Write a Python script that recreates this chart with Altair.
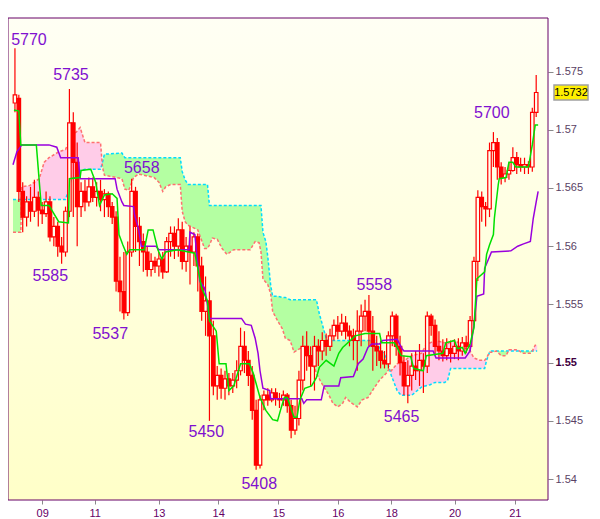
import altair as alt
import pandas as pd

# ---------------- data ----------------
bar_open = [1.5723,1.5727,1.5647,1.5625,1.5638,1.5630,1.5642,1.5631,1.5628,1.5638,
            1.5608,1.5617,1.5600,1.5595,1.5630,1.5706,1.5672,1.5634,1.5647,1.5638,
            1.5651,1.5642,1.5647,1.5640,1.5645,1.5634,1.5625,1.5570,1.5561,1.5543,
            1.5595,1.5647,1.5617,1.5604,1.5595,1.5580,1.5587,1.5583,1.5589,1.5578,
            1.5604,1.5611,1.5600,1.5614,1.5587,1.5600,1.5595,1.5608,1.5583,1.5544,
            1.5553,1.5523,1.5480,1.5489,1.5478,1.5486,1.5480,1.5485,1.5493,1.5514,
            1.5502,1.5489,1.5459,1.5412,1.5468,1.5472,1.5468,1.5474,1.5469,1.5468,
            1.5472,1.5463,1.5442,1.5452,1.5485,1.5514,1.5506,1.5497,1.5514,1.5510,
            1.5519,1.5514,1.5523,1.5532,1.5527,1.5534,1.5527,1.5523,1.5519,1.5527,
            1.5540,1.5544,1.5527,1.5514,1.5510,1.5502,1.5499,1.5523,1.5540,1.5514,
            1.5500,1.5480,1.5489,1.5497,1.5493,1.5502,1.5497,1.5540,1.5532,1.5514,
            1.5510,1.5506,1.5512,1.5508,1.5514,1.5510,1.5517,1.5514,1.5536,1.5587,
            1.5642,1.5634,1.5632,1.5682,1.5689,1.5668,1.5659,1.5662,1.5665,1.5676,
            1.5670,1.5668,1.5670,1.5668,1.5715]
bar_high = [1.5770,1.5730,1.5655,1.5643,1.5651,1.5657,1.5647,1.5638,1.5647,1.5643,
            1.5625,1.5621,1.5608,1.5634,1.5735,1.5715,1.5689,1.5655,1.5657,1.5659,
            1.5659,1.5655,1.5657,1.5649,1.5647,1.5638,1.5630,1.5591,1.5595,1.5604,
            1.5658,1.5651,1.5625,1.5611,1.5600,1.5594,1.5591,1.5595,1.5595,1.5608,
            1.5617,1.5617,1.5624,1.5621,1.5608,1.5617,1.5612,1.5611,1.5591,1.5574,
            1.5561,1.5536,1.5497,1.5495,1.5493,1.5491,1.5491,1.5502,1.5530,1.5527,
            1.5510,1.5497,1.5468,1.5472,1.5476,1.5478,1.5478,1.5478,1.5474,1.5476,
            1.5474,1.5468,1.5463,1.5493,1.5523,1.5527,1.5514,1.5523,1.5520,1.5526,
            1.5525,1.5529,1.5537,1.5540,1.5542,1.5540,1.5532,1.5529,1.5545,1.5550,
            1.5554,1.5558,1.5540,1.5523,1.5519,1.5510,1.5527,1.5544,1.5542,1.5523,
            1.5506,1.5502,1.5508,1.5510,1.5516,1.5508,1.5544,1.5542,1.5537,1.5527,
            1.5520,1.5521,1.5519,1.5520,1.5521,1.5522,1.5523,1.5540,1.5591,1.5648,
            1.5647,1.5638,1.5689,1.5698,1.5693,1.5672,1.5668,1.5672,1.5685,1.5681,
            1.5676,1.5676,1.5673,1.5719,1.5747]
bar_low = [1.5715,1.5638,1.5612,1.5617,1.5621,1.5625,1.5617,1.5619,1.5625,1.5604,
           1.5600,1.5591,1.5585,1.5591,1.5625,1.5625,1.5600,1.5625,1.5630,1.5634,
           1.5638,1.5634,1.5630,1.5625,1.5625,1.5619,1.5561,1.5544,1.5537,1.5540,
           1.5591,1.5595,1.5583,1.5578,1.5574,1.5574,1.5577,1.5574,1.5572,1.5577,
           1.5591,1.5589,1.5591,1.5580,1.5578,1.5567,1.5583,1.5561,1.5536,1.5523,
           1.5450,1.5472,1.5468,1.5469,1.5468,1.5472,1.5474,1.5478,1.5489,1.5491,
           1.5480,1.5451,1.5408,1.5409,1.5459,1.5463,1.5466,1.5463,1.5461,1.5463,
           1.5457,1.5435,1.5438,1.5446,1.5476,1.5493,1.5480,1.5476,1.5497,1.5502,
           1.5506,1.5510,1.5519,1.5520,1.5523,1.5520,1.5514,1.5502,1.5493,1.5514,
           1.5527,1.5514,1.5493,1.5497,1.5495,1.5495,1.5495,1.5514,1.5506,1.5489,
           1.5472,1.5465,1.5476,1.5485,1.5480,1.5474,1.5491,1.5523,1.5506,1.5502,
           1.5501,1.5502,1.5500,1.5503,1.5502,1.5506,1.5508,1.5510,1.5532,1.5570,
           1.5621,1.5617,1.5625,1.5668,1.5657,1.5653,1.5655,1.5657,1.5664,1.5662,
           1.5664,1.5662,1.5662,1.5664,1.5711]
bar_close = [1.5730,1.5647,1.5625,1.5638,1.5630,1.5642,1.5631,1.5628,1.5638,1.5608,
             1.5617,1.5600,1.5595,1.5630,1.5706,1.5672,1.5634,1.5647,1.5638,1.5651,
             1.5642,1.5647,1.5640,1.5645,1.5634,1.5625,1.5570,1.5561,1.5543,1.5595,
             1.5647,1.5617,1.5604,1.5595,1.5580,1.5587,1.5583,1.5589,1.5578,1.5604,
             1.5611,1.5600,1.5614,1.5587,1.5600,1.5595,1.5608,1.5583,1.5544,1.5553,
             1.5523,1.5480,1.5489,1.5478,1.5486,1.5480,1.5485,1.5493,1.5514,1.5502,
             1.5489,1.5459,1.5412,1.5468,1.5472,1.5468,1.5474,1.5469,1.5468,1.5472,
             1.5463,1.5442,1.5452,1.5485,1.5514,1.5506,1.5497,1.5514,1.5510,1.5519,
             1.5514,1.5523,1.5532,1.5527,1.5534,1.5527,1.5523,1.5519,1.5527,1.5540,
             1.5544,1.5527,1.5514,1.5510,1.5502,1.5499,1.5523,1.5540,1.5514,1.5500,
             1.5480,1.5489,1.5497,1.5493,1.5502,1.5497,1.5540,1.5532,1.5514,1.5510,
             1.5506,1.5512,1.5508,1.5514,1.5510,1.5517,1.5514,1.5536,1.5587,1.5642,
             1.5634,1.5632,1.5682,1.5689,1.5668,1.5659,1.5662,1.5665,1.5676,1.5670,
             1.5668,1.5670,1.5668,1.5715,1.5732]

tenkan_x = [-0.25,1.0,1.5,5.5,6.75,8.75,11.25,13.75,14.0,16.75,
            17.0,19.5,20.75,21.75,23.0,25.0,26.25,26.75,27.75,28.75,
            29.5,33.25,34.25,35.5,36.75,37.75,38.75,41.75,46.25,48.0,
            49.5,50.0,51.75,52.5,54.25,55.0,56.25,58.0,60.25,61.25,
            63.0,64.5,66.25,67.5,68.25,69.25,70.0,71.75,72.5,73.25,
            74.5,76.25,77.5,78.25,80.0,82.0,83.25,84.25,87.5,90.0,
            93.75,94.25,97.5,98.25,99.25,101.75,102.5,105.0,105.75,110.0,
            110.75,113.0,113.75,115.0,115.75,117.0,118.0,118.75,120.75,121.25,
            122.0,123.0,123.25,124.25,124.5,126.25,127.0,128.0,128.75,132.0,
            133.0,133.75,134.5]
tenkan_v = [1.5717,1.5716,1.5687,1.5687,1.5635,1.5635,1.5621,1.5620,1.5658,1.5659,
            1.5665,1.5666,1.5655,1.5635,1.5644,1.5645,1.5641,1.5610,1.5601,1.5593,
            1.5597,1.5597,1.5614,1.5614,1.5597,1.5589,1.5595,1.5597,1.5594,1.5564,
            1.5553,1.5536,1.5527,1.5499,1.5499,1.5476,1.5480,1.5499,1.5499,1.5491,
            1.5470,1.5459,1.5451,1.5450,1.5459,1.5470,1.5470,1.5453,1.5453,1.5468,
            1.5478,1.5480,1.5487,1.5496,1.5502,1.5497,1.5508,1.5513,1.5523,1.5525,
            1.5525,1.5517,1.5517,1.5513,1.5506,1.5505,1.5495,1.5493,1.5506,1.5508,
            1.5517,1.5519,1.5512,1.5513,1.5508,1.5516,1.5530,1.5572,1.5578,1.5593,
            1.5601,1.5610,1.5624,1.5653,1.5658,1.5659,1.5672,1.5672,1.5668,1.5668,
            1.5687,1.5704,1.5704]

kijun_x = [-0.5,0.5,1.75,8.75,10.75,11.75,16.25,16.75,25.75,26.25,
           27.5,28.0,30.5,30.75,31.75,32.5,36.25,37.0,44.75,45.0,
           46.25,46.75,47.5,48.75,49.5,50.0,58.25,59.25,60.75,61.75,
           62.5,63.0,63.75,65.5,65.75,73.75,74.25,75.0,78.75,79.5,
           83.25,83.75,87.0,88.25,89.5,90.75,91.75,93.75,94.5,98.25,
           99.5,100.0,107.5,108.25,115.75,117.0,118.0,118.75,120.5,120.75,
           121.75,122.5,127.5,129.25,130.75,132.5,133.25,134.0,134.5]
kijun_v = [1.5670,1.5681,1.5687,1.5687,1.5685,1.5676,1.5676,1.5658,1.5658,1.5649,
           1.5638,1.5635,1.5634,1.5627,1.5615,1.5600,1.5600,1.5597,1.5597,1.5612,
           1.5610,1.5593,1.5570,1.5564,1.5550,1.5538,1.5538,1.5533,1.5532,1.5521,
           1.5508,1.5493,1.5478,1.5476,1.5469,1.5469,1.5465,1.5468,1.5468,1.5480,
           1.5480,1.5487,1.5488,1.5499,1.5503,1.5513,1.5516,1.5516,1.5519,1.5520,
           1.5512,1.5510,1.5510,1.5504,1.5504,1.5510,1.5532,1.5557,1.5559,1.5581,
           1.5589,1.5595,1.5596,1.5600,1.5602,1.5604,1.5624,1.5638,1.5647]

cloud_x = [-0.5,1.5,1.75,3.75,6.25,7.5,8.75,11.25,13.0,13.75,
           14.5,15.75,16.75,18.0,22.0,22.5,23.0,27.5,28.25,29.25,
           30.5,31.75,35.75,37.0,38.0,38.75,40.0,42.5,43.0,43.75,
           44.5,47.0,48.75,49.5,50.0,50.75,52.0,53.25,54.5,56.25,
           60.5,61.75,62.75,63.25,63.75,64.5,65.0,65.75,66.25,67.5,
           68.75,69.5,70.75,71.75,73.75,76.25,77.5,78.25,79.25,80.0,
           80.75,81.75,83.0,84.25,85.0,86.25,88.0,89.25,90.75,92.5,
           93.75,95.5,96.25,96.75,98.25,99.25,102.0,104.5,105.5,106.75,
           108.0,110.5,111.25,112.0,113.25,115.0,117.0,118.0,119.5,120.75,
           121.25,122.0,122.5,123.75,125.0,126.25,127.0,129.25,130.5,132.5,
           133.0,133.75,134.25]
span_a = [1.5640,1.5640,1.5640,1.5640,1.5640,1.5640,1.5640,1.5640,1.5640,1.5648,
          1.5658,1.5659,1.5665,1.5666,1.5666,1.5672,1.5679,1.5680,1.5676,1.5676,
          1.5676,1.5676,1.5676,1.5676,1.5676,1.5676,1.5676,1.5676,1.5664,1.5657,
          1.5653,1.5653,1.5653,1.5653,1.5635,1.5635,1.5635,1.5635,1.5635,1.5635,
          1.5635,1.5635,1.5635,1.5635,1.5612,1.5604,1.5591,1.5566,1.5557,1.5557,
          1.5556,1.5556,1.5554,1.5554,1.5554,1.5554,1.5554,1.5542,1.5530,1.5521,
          1.5519,1.5519,1.5519,1.5519,1.5519,1.5519,1.5519,1.5519,1.5519,1.5519,
          1.5513,1.5504,1.5495,1.5489,1.5476,1.5472,1.5472,1.5479,1.5480,1.5481,
          1.5483,1.5483,1.5485,1.5495,1.5495,1.5495,1.5495,1.5495,1.5495,1.5495,
          1.5502,1.5509,1.5510,1.5510,1.5510,1.5510,1.5510,1.5510,1.5510,1.5510,
          1.5510,1.5510,1.5510]
span_b = [1.5612,1.5612,1.5651,1.5652,1.5658,1.5672,1.5676,1.5681,1.5683,1.5689,
          1.5695,1.5698,1.5702,1.5689,1.5689,1.5668,1.5661,1.5658,1.5649,1.5648,
          1.5659,1.5662,1.5659,1.5655,1.5647,1.5651,1.5653,1.5653,1.5630,1.5621,
          1.5618,1.5614,1.5598,1.5598,1.5601,1.5607,1.5606,1.5598,1.5593,1.5597,
          1.5597,1.5604,1.5603,1.5595,1.5572,1.5569,1.5567,1.5559,1.5544,1.5536,
          1.5529,1.5521,1.5519,1.5509,1.5513,1.5502,1.5491,1.5486,1.5480,1.5476,
          1.5472,1.5465,1.5462,1.5465,1.5470,1.5466,1.5462,1.5468,1.5470,1.5479,
          1.5485,1.5491,1.5495,1.5493,1.5499,1.5500,1.5506,1.5508,1.5514,1.5517,
          1.5519,1.5517,1.5516,1.5518,1.5519,1.5514,1.5510,1.5504,1.5502,1.5502,
          1.5504,1.5509,1.5509,1.5510,1.5506,1.5506,1.5511,1.5511,1.5508,1.5508,
          1.5510,1.5515,1.5515]

day_pos = [7, 20.5, 37, 52.25, 67.75, 83, 96.75, 113, 128.5]
day_lbl = ["09", "11", "13", "14", "15", "16", "18", "20", "21"]
price_ticks = [1.54, 1.545, 1.55, 1.555, 1.56, 1.565, 1.57, 1.575]

ann_text = ["5770", "5735", "5658", "5585", "5537", "5450", "5408", "5558", "5465", "5700"]
ann_x = [3.6, 14.4, 32.6, 9.1, 24.5, 49.2, 62.8, 92.4, 99.4, 122.6]
ann_y = [1.5777, 1.5747, 1.5667, 1.5574, 1.5525, 1.5440, 1.5396, 1.5567, 1.5453, 1.5714]

last_price = 1.5732

# ---------------- tables ----------------
bars = pd.DataFrame({"i": list(range(len(bar_open))), "o": bar_open, "h": bar_high,
                     "l": bar_low, "c": bar_close})
tenkan = pd.DataFrame({"x": tenkan_x, "v": tenkan_v})
kijun = pd.DataFrame({"x": kijun_x, "v": kijun_v})
cloud = pd.DataFrame({"x": cloud_x, "a": span_a, "b": span_b})
cloud["top"] = cloud[["a", "b"]].max(axis=1)
ann = pd.DataFrame({"x": ann_x, "y": ann_y, "t": ann_text})
last = pd.DataFrame({"p": [last_price], "t": [f"{last_price:.4f}"]})
one = pd.DataFrame({"d": [0]})

W, H = 540, 482
xs = alt.Scale(domain=[-0.5, 135.75], nice=False, zero=False)
ys = alt.Scale(domain=[1.5382, 1.5796], nice=False, zero=False)

label_expr = " : ".join(f"datum.value == {p} ? '{l}'" for p, l in zip(day_pos, day_lbl)) + " : ''"

x_axis = alt.Axis(values=day_pos, labelExpr=label_expr, orient="bottom", domain=False,
                  grid=False, tickSize=4, tickColor="#8a8a8a", labelColor="#660066",
                  labelFont="Liberation Sans", labelFontSize=11, labelPadding=3, title=None)
y_axis = alt.Axis(values=price_ticks, format=".3~f", orient="right", domain=False, grid=False,
                  tickSize=5, tickColor="#8a8a8a",
                  labelColor={"condition": {"test": "abs(datum.value - 1.55) < 0.000001", "value": "#400040"}, "value": "#5a4264"},
                  labelFontWeight={"condition": {"test": "abs(datum.value - 1.55) < 0.000001", "value": "bold"}, "value": "normal"},
                  labelFont="Liberation Sans", labelFontSize=11, labelPadding=2, title=None)


def X(f):
    return alt.X(f, scale=xs, axis=x_axis)


def Y(f):
    return alt.Y(f, scale=ys, axis=y_axis)


bg = alt.LinearGradient(gradient="linear", x1=0, y1=0, x2=0, y2=1,
                        stops=[alt.GradientStop(color="#FFFFF4", offset=0),
                               alt.GradientStop(color="#FFFFC8", offset=1)])
background = alt.Chart(one).mark_rect(color=bg).encode(
    x=alt.value(0), x2=alt.value(W), y=alt.value(0), y2=alt.value(H))
frame = alt.Chart(one).mark_rect(fillOpacity=0, stroke="#660066", strokeWidth=1).encode(
    x=alt.value(0), x2=alt.value(W), y=alt.value(0), y2=alt.value(H))

green_fill = alt.Chart(cloud).mark_area(color="#B4FFA2", clip=True).encode(
    x=X("x:Q"), y=Y("top:Q"), y2="b:Q")
pink_fill = alt.Chart(cloud).mark_area(color="#FFCCE8", clip=True).encode(
    x=X("x:Q"), y=Y("top:Q"), y2="a:Q")
a_line = alt.Chart(cloud).mark_line(color="#00DCFF", strokeWidth=1.5, strokeDash=[3, 2], clip=True).encode(
    x=X("x:Q"), y=Y("a:Q"))
b_line = alt.Chart(cloud).mark_line(color="#FF7070", strokeWidth=1.5, strokeDash=[3, 2], clip=True).encode(
    x=X("x:Q"), y=Y("b:Q"))

wick = alt.Chart(bars).mark_rule(color="#FF0000", strokeWidth=1.2, clip=True).encode(
    x=X("i:Q"), y=Y("l:Q"), y2="h:Q")
body = alt.Chart(bars).mark_bar(size=3.5, stroke="#FF0000", strokeWidth=1.2, clip=True).encode(
    x=X("i:Q"), y=Y("o:Q"), y2="c:Q",
    fill=alt.condition("datum.c < datum.o", alt.value("#FF0000"), alt.value("#FFFFF0")))

kijun_line = alt.Chart(kijun).mark_line(color="#9900DD", strokeWidth=1.5, clip=True).encode(
    x=X("x:Q"), y=Y("v:Q"))
tenkan_line = alt.Chart(tenkan).mark_line(color="#00E000", strokeWidth=1.5, clip=True).encode(
    x=X("x:Q"), y=Y("v:Q"))

labels = alt.Chart(ann).mark_text(font="Liberation Sans", fontSize=16, color="#8010D0",
                                  align="center", baseline="middle").encode(
    x=X("x:Q"), y=Y("y:Q"), text="t:N")

box = alt.Chart(last).mark_point(shape="M-1,-0.44L1,-0.44L1,0.44L-1,0.44Z", size=1156, filled=True,
                                 color="#FFF000", fill="#FFF000", stroke="#A0A0A0", strokeWidth=1.5,
                                 opacity=1, fillOpacity=1, strokeOpacity=1).encode(
    x=alt.value(563), y=Y("p:Q"))
box_text = alt.Chart(last).mark_text(font="Liberation Sans", fontSize=11, color="#000000",
                                     align="center", baseline="middle").encode(
    x=alt.value(563), y=Y("p:Q"), text="t:N")

chart = alt.layer(background, green_fill, pink_fill, a_line, b_line, wick, body, kijun_line,
                  tenkan_line, labels, frame, box, box_text).properties(
    width=W, height=H,
    autosize=alt.AutoSizeParams(type="none"),
    padding={"left": 0, "top": 10, "right": 44, "bottom": 19},
    background="white",
).configure_view(strokeWidth=0)

chart.save("out.html", embed_options={"renderer": "svg", "actions": False})
